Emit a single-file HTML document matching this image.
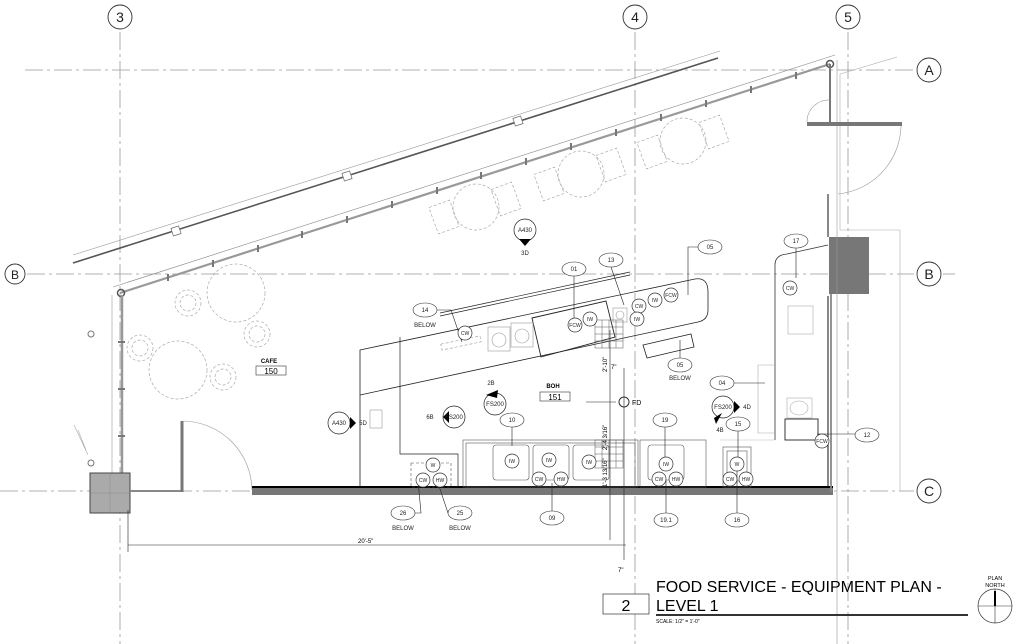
<!DOCTYPE html>
<html><head><meta charset="utf-8"><style>
html,body{margin:0;padding:0;background:#fff;}
svg{display:block;font-family:"Liberation Sans",sans-serif;}
</style></head><body>
<svg width="1024" height="644" viewBox="0 0 1024 644" xmlns="http://www.w3.org/2000/svg">
<rect width="1024" height="644" fill="#fff"/>
<g stroke="#999" stroke-width="0.8" stroke-dasharray="18,4,3,4" fill="none">
<line x1="120" y1="32" x2="120" y2="644"/>
<line x1="635" y1="32" x2="635" y2="644"/>
<line x1="848" y1="32" x2="848" y2="644"/>
<line x1="25" y1="70" x2="914" y2="70"/>
<line x1="27" y1="274" x2="914" y2="274"/>
<line x1="0" y1="491" x2="914" y2="491"/>
</g>
<line x1="943" y1="274" x2="955" y2="274" stroke="#999" stroke-width="0.8"/>
<g fill="#fff" stroke="#333" stroke-width="0.9">
<circle cx="120" cy="17" r="12"/><circle cx="635" cy="17" r="12"/><circle cx="848" cy="17" r="12"/>
<circle cx="929" cy="70" r="12"/><circle cx="929" cy="274" r="12"/><circle cx="929" cy="491" r="12"/>
<circle cx="15" cy="274" r="10"/>
</g>
<g font-size="14" text-anchor="middle" fill="#222">
<text x="120" y="22">3</text><text x="635" y="22">4</text><text x="848" y="22">5</text>
<text x="929" y="75">A</text><text x="929" y="279">B</text><text x="929" y="496">C</text>
<text x="15" y="279" font-size="12">B</text>
</g>
<!-- diagonal outer walls -->
<line x1="73" y1="255" x2="720" y2="51" stroke="#999" stroke-width="0.6"/>
<line x1="73" y1="263" x2="718" y2="58" stroke="#555" stroke-width="1.6"/>
<g fill="#fff" stroke="#777" stroke-width="0.8">
<rect x="172" y="227" width="8" height="8" transform="rotate(-18 176 231)"/>
<rect x="343" y="172" width="8" height="8" transform="rotate(-18 347 176)"/>
<rect x="514" y="117" width="8" height="8" transform="rotate(-18 518 121)"/>
</g>
<line x1="113" y1="287" x2="835" y2="55" stroke="#888" stroke-width="0.6"/>
<line x1="120" y1="293" x2="830" y2="64" stroke="#999" stroke-width="2.2"/>
<g stroke="#777" stroke-width="2">
<line x1="168" y1="274" x2="168" y2="281"/><line x1="213" y1="260" x2="213" y2="267"/><line x1="258" y1="245" x2="258" y2="252"/>
<line x1="302" y1="231" x2="302" y2="238"/><line x1="347" y1="216" x2="347" y2="223"/><line x1="392" y1="201" x2="392" y2="208"/>
<line x1="437" y1="187" x2="437" y2="194"/><line x1="481" y1="172" x2="481" y2="179"/><line x1="526" y1="158" x2="526" y2="165"/>
<line x1="571" y1="143" x2="571" y2="150"/><line x1="616" y1="129" x2="616" y2="136"/><line x1="661" y1="114" x2="661" y2="121"/>
<line x1="706" y1="100" x2="706" y2="107"/><line x1="751" y1="86" x2="751" y2="93"/><line x1="796" y1="72" x2="796" y2="79"/>
</g>
<circle cx="121" cy="293" r="3.5" fill="none" stroke="#555" stroke-width="1.5"/>
<circle cx="830" cy="64" r="3.5" fill="none" stroke="#555" stroke-width="1.5"/>
<line x1="830" y1="64" x2="830" y2="100" stroke="#777" stroke-width="2"/>
<line x1="112" y1="295" x2="112" y2="473" stroke="#999" stroke-width="0.6"/>
<line x1="122" y1="295" x2="122" y2="473" stroke="#999" stroke-width="2.5"/>
<g stroke="#777" stroke-width="2"><line x1="118" y1="342" x2="125" y2="342"/><line x1="118" y1="389" x2="125" y2="389"/><line x1="118" y1="436" x2="125" y2="436"/></g>
<circle cx="91" cy="334" r="3" fill="none" stroke="#777"/>
<circle cx="91" cy="463" r="3" fill="none" stroke="#777"/>
<path d="M74 425 L88 455 M78 430 L86 450" stroke="#aaa" stroke-width="0.6"/>
<rect x="90" y="473" width="40" height="40" fill="#aaa" stroke="#444" stroke-width="1"/>
<line x1="110" y1="473" x2="110" y2="513" stroke="#888" stroke-width="0.5"/>
<line x1="90" y1="493" x2="130" y2="493" stroke="#888" stroke-width="0.5"/>
<line x1="130" y1="491" x2="182" y2="491" stroke="#888" stroke-width="2"/>
<line x1="182" y1="421" x2="182" y2="492" stroke="#777" stroke-width="3"/>
<path d="M183 421 A70 70 0 0 1 252 490" fill="none" stroke="#999" stroke-width="0.6"/>
<rect x="252" y="487" width="581" height="8" fill="#777"/>
<line x1="252" y1="487" x2="833" y2="487" stroke="#000" stroke-width="2"/>
<g fill="none" stroke="#aaa" stroke-width="0.7" stroke-dasharray="3,2">
<circle cx="236" cy="293" r="29"/><circle cx="178" cy="370" r="29"/>
<circle cx="188" cy="303" r="13"/><circle cx="188" cy="303" r="8"/>
<circle cx="257" cy="334" r="13"/><circle cx="257" cy="334" r="8"/>
<circle cx="140" cy="348" r="13"/><circle cx="140" cy="348" r="8"/>
<circle cx="223" cy="377" r="13"/><circle cx="223" cy="377" r="8"/>
<circle cx="476" cy="207" r="23"/><circle cx="581" cy="174" r="23"/><circle cx="683" cy="141" r="23"/>
<rect x="433" y="203" width="22" height="28" transform="rotate(-20 444 217)"/>
<rect x="495" y="185" width="22" height="28" transform="rotate(-20 506 199)"/>
<rect x="538" y="170" width="22" height="28" transform="rotate(-20 549 184)"/>
<rect x="600" y="151" width="22" height="28" transform="rotate(-20 611 165)"/>
<rect x="641" y="138" width="22" height="28" transform="rotate(-20 652 152)"/>
<rect x="703" y="118" width="22" height="28" transform="rotate(-20 714 132)"/>
</g>
<text x="269" y="363" font-size="6" text-anchor="middle" font-weight="bold">CAFE</text>
<rect x="256" y="366" width="30" height="9" fill="none" stroke="#333" stroke-width="0.6"/>
<text x="271" y="374" font-size="8" text-anchor="middle">150</text>
<path d="M360 350 L695 279 Q708 277 708 292 L708 310 Q708 320 698 322 L360 395 Z M360 395 L360 487" fill="none" stroke="#222" stroke-width="0.8"/>
<path d="M400 337 L400 454 L458 454 L458 487" fill="none" stroke="#222" stroke-width="0.7"/>
<line x1="440" y1="313" x2="630" y2="272" stroke="#222" stroke-width="0.7"/>
<line x1="440" y1="316" x2="630" y2="275" stroke="#222" stroke-width="0.7"/>
<path d="M532 318 L606 301 L615 337 L541 357 Z" fill="none" stroke="#222" stroke-width="0.9"/>
<g fill="none" stroke="#999" stroke-width="0.6">
<rect x="488" y="327" width="22" height="24"/><rect x="511" y="323" width="22" height="24"/>
<circle cx="499" cy="340" r="7"/><circle cx="522" cy="336" r="7"/>
<rect x="441" y="340" width="40" height="6" stroke-dasharray="3,2" transform="rotate(-12 461 343)"/>
<rect x="613" y="308" width="14" height="14"/><circle cx="620" cy="315" r="4"/>
</g>
<path d="M643 345 L691 334 L694 347 L647 358 Z" fill="none" stroke="#222" stroke-width="0.8"/>
<g stroke="#555" stroke-width="0.5" fill="none">
<rect x="595" y="320" width="28" height="28"/>
<path d="M595 327H623M595 334H623M595 341H623M602 320V348M609 320V348M616 320V348"/>
<rect x="595" y="440" width="28" height="28"/>
<path d="M595 447H623M595 454H623M595 461H623M602 440V468M609 440V468M616 440V468"/>
</g>
<g stroke="#222" stroke-width="0.6">
<line x1="610" y1="330" x2="610" y2="540"/><line x1="624" y1="368" x2="624" y2="560"/>
<line x1="586" y1="402" x2="616" y2="402"/>
<line x1="128" y1="545" x2="626" y2="545"/>
<line x1="128" y1="510" x2="128" y2="552"/>
</g>
<circle cx="624" cy="402" r="5" fill="none" stroke="#333"/>
<text x="632" y="405" font-size="7">FD</text>
<text x="607" y="372" font-size="6" transform="rotate(-90 607 372)">2'-10"</text>
<text x="607" y="450" font-size="6" transform="rotate(-90 607 450)">2'-4 3/16"</text>
<text x="607" y="487" font-size="6" transform="rotate(-90 607 487)">1'-3 13/16"</text>
<text x="611" y="369" font-size="6">7"</text>
<text x="618" y="572" font-size="6">7"</text>
<text x="358" y="543" font-size="6">20'-5"</text>
<text x="553" y="388" font-size="6" font-weight="bold" text-anchor="middle">BOH</text>
<rect x="540" y="392" width="30" height="9" fill="none" stroke="#333" stroke-width="0.6"/>
<text x="555" y="400" font-size="8" text-anchor="middle">151</text>
<g fill="none" stroke="#555" stroke-width="0.6">
<rect x="463" y="440" width="175" height="47"/><rect x="466" y="443" width="169" height="44"/>
<rect x="493" y="445" width="36" height="35" rx="3"/><rect x="533" y="445" width="36" height="35" rx="3"/><rect x="573" y="445" width="36" height="35" rx="3"/>
<rect x="640" y="440" width="66" height="47"/><rect x="648" y="445" width="36" height="35" rx="3"/>
<rect x="723" y="447" width="28" height="40"/><rect x="727" y="451" width="20" height="30"/>
<rect x="411" y="463" width="40" height="24" stroke-dasharray="3,2"/>
</g>
<path d="M775 440 L775 265 Q775 255 787 254 L828 245" fill="none" stroke="#333" stroke-width="0.8"/>
<line x1="775" y1="440" x2="720" y2="440" stroke="#bbb" stroke-width="0.6"/>
<line x1="828" y1="296" x2="828" y2="487" stroke="#111" stroke-width="1"/>
<line x1="831" y1="240" x2="831" y2="492" stroke="#888" stroke-width="1.8"/>
<rect x="829" y="237" width="40" height="57" fill="#777"/>
<line x1="837" y1="60" x2="837" y2="644" stroke="#999" stroke-width="0.6"/>
<line x1="840" y1="230" x2="900" y2="230" stroke="#aaa" stroke-width="0.6"/>
<line x1="900" y1="230" x2="900" y2="491" stroke="#aaa" stroke-width="0.6"/>
<line x1="840" y1="74" x2="897" y2="57" stroke="#aaa" stroke-width="0.6"/>
<line x1="840" y1="74" x2="840" y2="230" stroke="#aaa" stroke-width="0.6"/>
<line x1="830" y1="100" x2="830" y2="124" stroke="#777" stroke-width="2"/>
<rect x="807" y="122" width="95" height="4" fill="#777"/>
<path d="M807 122 A22 22 0 0 1 830 100" fill="none" stroke="#999" stroke-width="0.6"/>
<path d="M901 126 A70 70 0 0 1 838 194" fill="none" stroke="#999" stroke-width="0.6"/>
<line x1="828" y1="194" x2="828" y2="237" stroke="#888" stroke-width="2"/>
<g fill="none" stroke="#aaa" stroke-width="0.6">
<rect x="788" y="306" width="25" height="28"/><rect x="787" y="398" width="25" height="20"/>
<ellipse cx="799" cy="408" rx="9" ry="7"/>
<path d="M758 365 L775 365 M758 365 L758 433 L775 433"/>
</g>
<rect x="785" y="419" width="33" height="21" fill="#fff" stroke="#222" stroke-width="0.9"/>
<line x1="817" y1="434" x2="860" y2="434" stroke="#222" stroke-width="0.6"/>
<g fill="#fff" stroke="#333" stroke-width="0.6">
<ellipse cx="574" cy="269" rx="12" ry="7"/><ellipse cx="611" cy="260" rx="12" ry="7"/><ellipse cx="710" cy="247" rx="12" ry="7"/>
<ellipse cx="425" cy="310" rx="12" ry="7"/><ellipse cx="680" cy="365" rx="12" ry="7"/>
<ellipse cx="512" cy="420" rx="12" ry="7"/><ellipse cx="665" cy="420" rx="12" ry="7"/>
<ellipse cx="403" cy="513" rx="12" ry="7"/><ellipse cx="460" cy="513" rx="12" ry="7"/>
<ellipse cx="552" cy="518" rx="12" ry="7"/><ellipse cx="666" cy="520" rx="12" ry="7"/><ellipse cx="737" cy="520" rx="12" ry="7"/>
<ellipse cx="796" cy="241" rx="12" ry="7"/><ellipse cx="722" cy="383" rx="12" ry="7"/><ellipse cx="738" cy="424" rx="12" ry="7"/><ellipse cx="867" cy="435" rx="12" ry="7"/>
</g>
<g font-size="6" text-anchor="middle" fill="#222">
<text x="574" y="271">01</text><text x="611" y="262">13</text><text x="710" y="249">05</text>
<text x="425" y="312">14</text><text x="425" y="327">BELOW</text>
<text x="680" y="367">05</text><text x="680" y="380">BELOW</text>
<text x="512" y="422">10</text><text x="665" y="422">19</text>
<text x="403" y="515">26</text><text x="403" y="530">BELOW</text>
<text x="460" y="515">25</text><text x="460" y="530">BELOW</text>
<text x="552" y="520">09</text><text x="666" y="522">19.1</text><text x="737" y="522">16</text>
<text x="796" y="243">17</text><text x="722" y="385">04</text><text x="738" y="426">15</text><text x="867" y="437">12</text>
</g>
<g stroke="#222" stroke-width="0.6" fill="none">
<path d="M574 276V318M611 267L624 305M698 247H688V295M437 310H451L462 342"/>
<path d="M680 358V340M512 427V446M665 427V460M552 511V483M666 513V480M737 513V462M738 431V458M796 248V278M734 383H765"/>
<path d="M415 513H421L418 480M448 513L437 480"/>
</g>
<g fill="#fff" stroke="#333" stroke-width="0.7">
<circle cx="465" cy="333" r="7"/><circle cx="575" cy="325" r="7"/><circle cx="590" cy="319" r="7"/><circle cx="639" cy="306" r="7"/><circle cx="637" cy="319" r="7"/><circle cx="655" cy="300" r="7"/><circle cx="671" cy="295" r="7"/>
<circle cx="512" cy="461" r="7"/><circle cx="549" cy="460" r="7"/><circle cx="589" cy="462" r="7"/><circle cx="539" cy="479" r="7"/><circle cx="561" cy="479" r="7"/>
<circle cx="666" cy="464" r="7"/><circle cx="659" cy="479" r="7"/><circle cx="676" cy="479" r="7"/>
<circle cx="433" cy="465" r="7"/><circle cx="423" cy="480" r="7"/><circle cx="440" cy="480" r="7"/>
<circle cx="737" cy="464" r="7"/><circle cx="730" cy="479" r="7"/><circle cx="746" cy="479" r="7"/>
<circle cx="790" cy="288" r="7"/><circle cx="822" cy="441" r="7"/>
</g>
<g font-size="5" text-anchor="middle" fill="#222">
<text x="465" y="335">CW</text><text x="575" y="327">FCW</text><text x="590" y="321">IW</text><text x="639" y="308">CW</text><text x="637" y="321">IW</text><text x="655" y="302">IW</text><text x="671" y="297">FCW</text>
<text x="512" y="463">IW</text><text x="549" y="462">IW</text><text x="589" y="464">IW</text><text x="539" y="481">CW</text><text x="561" y="481">HW</text>
<text x="666" y="466">IW</text><text x="659" y="481">CW</text><text x="676" y="481">HW</text>
<text x="433" y="467">W</text><text x="423" y="482">CW</text><text x="440" y="482">HW</text>
<text x="737" y="466">W</text><text x="730" y="481">CW</text><text x="746" y="481">HW</text>
<text x="790" y="290">CW</text><text x="822" y="443">FCW</text>
</g>
<g fill="#fff" stroke="#222" stroke-width="0.7">
<circle cx="525" cy="230" r="11"/><circle cx="495" cy="404" r="11"/><circle cx="454" cy="417" r="11"/><circle cx="339" cy="423" r="11"/><circle cx="723" cy="407" r="11"/>
</g>
<g fill="#000">
<path d="M519 239L531 239L525 246Z"/><path d="M486 395L498 390L497 398Z"/><path d="M443 417L449 411L449 423Z"/><path d="M350 417L356 423L350 429Z"/><path d="M734 401L740 407L734 413Z"/><path d="M714 418L722 413L716 424Z"/>
</g>
<g font-size="6" text-anchor="middle" fill="#222">
<text x="525" y="232">A430</text><text x="525" y="255">3D</text>
<text x="495" y="406">FS200</text><text x="491" y="385">2B</text>
<text x="454" y="419">FS200</text><text x="430" y="419">6B</text>
<text x="339" y="425">A430</text><text x="363" y="425">5D</text>
<text x="723" y="409">FS200</text><text x="747" y="409">4D</text><text x="720" y="432">4B</text>
</g>
<rect x="370" y="410" width="12" height="18" fill="none" stroke="#999" stroke-width="0.6"/>
<rect x="603" y="594" width="46" height="20" fill="#fff" stroke="#333" stroke-width="0.7"/>
<text x="626" y="611" font-size="16" text-anchor="middle">2</text>
<text x="656" y="592" font-size="16">FOOD SERVICE - EQUIPMENT PLAN -</text>
<text x="656" y="611" font-size="16">LEVEL 1</text>
<line x1="656" y1="615" x2="968" y2="615" stroke="#333" stroke-width="2"/>
<text x="656" y="623" font-size="5">SCALE:  1/2" = 1'-0"</text>
<text x="995" y="580" font-size="5.5" text-anchor="middle">PLAN</text>
<text x="995" y="587" font-size="5.5" text-anchor="middle">NORTH</text>
<circle cx="995" cy="606" r="17" fill="none" stroke="#333" stroke-width="0.7"/>
<path d="M978 606H1012M995 589V623" stroke="#333" stroke-width="0.6"/>
<line x1="995" y1="591" x2="995" y2="606" stroke="#000" stroke-width="2"/>
</svg>
</body></html>
